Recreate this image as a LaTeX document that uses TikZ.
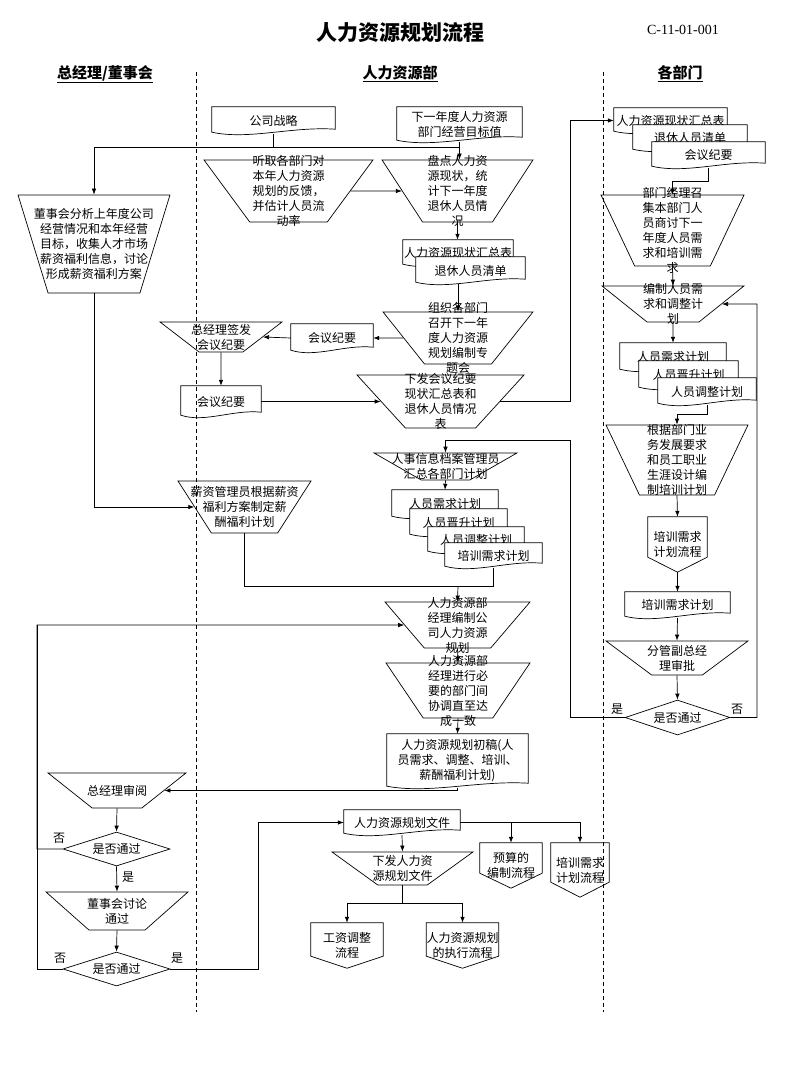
\documentclass[tikz,border=0pt]{standalone}
\usepackage{fontspec}
\setmainfont{Noto Sans CJK SC}
\newfontfamily\codefont{Liberation Serif}
\usetikzlibrary{arrows.meta}
\usetikzlibrary{calc}
\usetikzlibrary{shapes.geometric}

\tikzset{
  wire/.style={draw=black, line width=0.7pt},
  arr/.style={wire, -{Latex[length=6pt,width=4.5pt]}},
  txt/.style={align=center, inner sep=0pt, font=\fontsize{12}{15}\selectfont},
  manop/.style={trapezium, shape border rotate=180, trapezium stretches=true, wire, inner sep=0pt},
  doc/.style={txt, fill=white},
  offpg/.style={txt},
  chk/.style={diamond, wire, inner sep=0pt},
  lane/.style={line width=0.7pt, dash pattern=on 4pt off 3pt},
  head/.style={font=\fontsize{15}{15}\selectfont\bfseries},
  yn/.style={font=\fontsize{12}{12}\selectfont, inner sep=0pt}
}
% outline of a document box (wavy bottom)
\newcommand{\docedge}[1]{%
  \draw[wire] (#1.north west) -- ($(#1.south west)+(0,-2)$)
    .. controls ($(#1.south west)!0.3!(#1.south east)+(0,6)$) and ($(#1.south west)!0.65!(#1.south east)+(0,-8)$) .. ($(#1.south east)+(0,-5)$)
    -- (#1.north east) -- cycle;}
% outline of an off-page connector
\newcommand{\offedge}[2]{%
  \draw[wire] (#1.north west) -- (#1.north east) -- ($(#1.south east)+(0,-#2)$)
    -- (#1.south) -- ($(#1.south west)+(0,-#2)$) -- cycle;}
\newcommand{\blank}{\phantom{x}}

\begin{document}
\begin{tikzpicture}[x=1pt, y=-1pt]
  \useasboundingbox (0,0) rectangle (800,1066);

  % title and lane heads
  \node[font=\fontsize{21}{21}\selectfont\bfseries] (title) at (400,33) {人力资源规划流程};
  \node[font={\codefont\fontsize{14}{14}\selectfont}] (code) at (683,30) {C-11-01-001};
  \node[head] (hgm) at (105,74) {\underline{总经理/董事会}};
  \node[head] (hhr) at (400,74) {\underline{人力资源部}};
  \node[head] (hdp) at (680,74) {\underline{各部门}};

  % HR lane, top
  \node[doc, minimum width=123, minimum height=27] (gs) at (273.5,120.5) {公司战略};
  \docedge{gs}
  \node[doc, minimum width=125, minimum height=35] (target) at (459.5,124.5) {下一年度人力资源\\部门经营目标值};
  \docedge{target}
  \node[manop, minimum width=169, minimum height=62, trapezium angle=61.6,
    label={[txt]center:{听取各部门对\\本年人力资源\\规划的反馈，\\并估计人员流\\动率}}] (feedback) at (288.5,191) {\blank};
  \node[manop, minimum width=151, minimum height=62, trapezium angle=62,
    label={[txt]center:{盘点人力资\\源现状，统\\计下一年度\\退休人员情\\况}}] (count) at (457.5,191) {\blank};
  \node[doc, minimum width=110, minimum height=26] (hrsum) at (458,253) {人力资源现状汇总表};
  \docedge{hrsum}
  \node[doc, minimum width=109, minimum height=27] (retire) at (470.5,270.5) {退休人员清单};
  \docedge{retire}
  \node[manop, minimum width=150, minimum height=52, trapezium angle=60.4,
    label={[txt]center:{组织各部门\\召开下一年\\度人力资源\\规划编制专\\题会}}] (meeting) at (458,338) {\blank};
  \node[doc, minimum width=82, minimum height=28] (minutes1) at (332,338) {会议纪要};
  \docedge{minutes1}
  \node[manop, minimum width=167, minimum height=53, trapezium angle=57.7,
    label={[txt]center:{下发会议纪要\\现状汇总表和\\退休人员情况\\表}}] (issue) at (440.5,401.5) {\blank};

  % board lane, top
  \node[manop, minimum width=152, minimum height=98, trapezium angle=73.3,
    label={[txt]center:{董事会分析上年度公司\\经营情况和本年经营\\目标，收集人才市场\\薪资福利信息，讨论\\形成薪资福利方案}}] (board) at (94,244) {\blank};
  \node[manop, minimum width=122, minimum height=30, trapezium angle=50.8,
    label={[txt]center:{总经理签发\\会议纪要}}] (gmsign) at (221,337) {\blank};
  \node[doc, minimum width=80, minimum height=31] (minutes2) at (221,401.5) {会议纪要};
  \docedge{minutes2}

  % department lane
  \node[doc, minimum width=113, minimum height=25] (rhrsum) at (670.5,120.5) {人力资源现状汇总表};
  \docedge{rhrsum}
  \node[doc, minimum width=114, minimum height=26] (rretire) at (690,138) {退休人员清单};
  \docedge{rretire}
  \node[doc, minimum width=113, minimum height=26] (rminutes) at (708.5,155) {会议纪要};
  \docedge{rminutes}
  \node[manop, minimum width=143, minimum height=71, trapezium angle=67.8,
    label={[txt]center:{部门经理召\\集本部门人\\员商讨下一\\年度人员需\\求和培训需\\求}}] (dmeet) at (672.5,230.5) {\blank};
  \node[manop, minimum width=142, minimum height=36, trapezium angle=51.6,
    label={[txt]center:{编制人员需\\求和调整计\\划}}] (dplan) at (673,304) {\blank};
  \node[doc, minimum width=106, minimum height=28] (rdemand) at (673,357) {人员需求计划};
  \docedge{rdemand}
  \node[doc, minimum width=99, minimum height=28] (rpromo) at (688.5,375) {人员晋升计划};
  \docedge{rpromo}
  \node[doc, minimum width=98, minimum height=27] (radjust) at (707,391.5) {人员调整计划};
  \docedge{radjust}
  \node[manop, minimum width=142, minimum height=70, trapezium angle=67.8,
    label={[txt]center:{根据部门业\\务发展要求\\和员工职业\\生涯设计编\\制培训计划}}] (dtrain) at (677,460) {\blank};
  \node[offpg, minimum width=59, minimum height=55] (rtrainflow) at (677.5,544.5) {培训需求\\计划流程};
  \offedge{rtrainflow}{15}
  \node[doc, minimum width=105, minimum height=26] (rtrain) at (677.5,605) {培训需求计划};
  \docedge{rtrain}
  \node[manop, minimum width=142, minimum height=34, trapezium angle=50.5,
    label={[txt]center:{分管副总经\\理审批}}] (vpapp) at (677,658) {\blank};
  \node[chk, minimum width=105, minimum height=35,
    label={[txt]center:是否通过}] (dchk) at (677.5,717.5) {\blank};

  % HR lane, middle
  \node[manop, minimum width=143, minimum height=27, trapezium angle=48.4,
    label={[txt]center:{人事信息档案管理员\\汇总各部门计划}}] (collect) at (445.5,466.5) {\blank};
  \node[doc, minimum width=106, minimum height=28] (mdemand) at (445,504) {人员需求计划};
  \docedge{mdemand}
  \node[doc, minimum width=97, minimum height=27] (mpromo) at (458.5,522.5) {人员晋升计划};
  \docedge{mpromo}
  \node[doc, minimum width=96, minimum height=26] (madjust) at (476,540) {人员调整计划};
  \docedge{madjust}
  \node[doc, minimum width=97, minimum height=25] (mtrain) at (493.5,555.5) {培训需求计划};
  \docedge{mtrain}
  \node[manop, minimum width=133, minimum height=52, trapezium angle=65.2,
    label={[txt]center:{薪资管理员根据薪资\\福利方案制定薪\\酬福利计划}}] (salary) at (244.5,507) {\blank};
  \node[manop, minimum width=145, minimum height=46, trapezium angle=61.5,
    label={[txt]center:{人力资源部\\经理编制公\\司人力资源\\规划}}] (compile) at (457.5,625) {\blank};
  \node[manop, minimum width=144, minimum height=55, trapezium angle=63.9,
    label={[txt]center:{人力资源部\\经理进行必\\要的部门间\\协调直至达\\成一致}}] (coord) at (458,690.5) {\blank};
  \node[doc, minimum width=141, minimum height=54] (draft) at (457.5,761) {人力资源规划初稿(人\\员需求、调整、培训、\\薪酬福利计划)};
  \docedge{draft}

  % board lane, bottom
  \node[manop, minimum width=138, minimum height=35, trapezium angle=50.8,
    label={[txt]center:总经理审阅}] (gmreview) at (117,790.5) {\blank};
  \node[chk, minimum width=107, minimum height=34,
    label={[txt]center:是否通过}] (chk1) at (116.5,849) {\blank};
  \node[manop, minimum width=142, minimum height=38, trapezium angle=55,
    label={[txt]center:{董事会讨论\\通过}}] (bdiscuss) at (117,911) {\blank};
  \node[chk, minimum width=107, minimum height=34,
    label={[txt]center:是否通过}] (chk2) at (116.5,969) {\blank};

  % HR lane, bottom
  \node[doc, minimum width=116, minimum height=25] (planfile) at (402,822.5) {人力资源规划文件};
  \docedge{planfile}
  \node[manop, minimum width=141, minimum height=33, trapezium angle=49.7,
    label={[txt]center:{下发人力资\\源规划文件}}] (release) at (402.5,868.5) {\blank};
  \node[offpg, minimum width=62, minimum height=45] (budget) at (511,865.5) {预算的\\编制流程};
  \offedge{budget}{15}
  \node[offpg, minimum width=58, minimum height=54] (trainflow) at (580,870) {培训需求\\计划流程};
  \offedge{trainflow}{15}
  \node[offpg, minimum width=72, minimum height=45] (wageflow) at (347,945.5) {工资调整\\流程};
  \offedge{wageflow}{12}
  \node[offpg, minimum width=71, minimum height=45] (execflow) at (462.5,945.5) {人力资源规划\\的执行流程};
  \offedge{execflow}{12}

  % turning points
  \coordinate (j1) at (459.5,147);
  \coordinate (upR) at (570,120.5);
  \coordinate (yesR) at (570,440);
  \coordinate (noR) at (757,304);
  \coordinate (j2) at (458,586);
  \coordinate (noL) at (37,625);
  \coordinate (yesL) at (258,822.5);

  % connectors
  \draw[wire] (gs.south) -- (gs.south |- j1);
  \draw[arr] (j1) -| (board.north);
  \draw[arr] (target.south) -- (target.south |- count.north);
  \draw[arr] (feedback.east) -- (count.west);
  \draw[arr] (count.south) -- (count.south |- hrsum.north);
  \draw[arr] (meeting.north |- retire.south) -- (meeting.north);
  \draw[arr] (meeting.west) -- (minutes1.east);
  \draw[arr] (minutes1.west) -- (gmsign.east);
  \draw[arr] (gmsign.south) -- (minutes2.north);
  \draw[arr] (minutes2.east) -- (issue.west);
  \draw[arr] (issue.east) -| (upR) -- (rhrsum.west);
  \draw[arr] (rminutes.south) -- ++(0,13) -| (dmeet.north);
  \draw[arr] (dmeet.south) -- (dplan.north);
  \draw[arr] (dplan.south) -- (rdemand.north);
  \draw[arr] (radjust.south) -- ++(0,9) -| (dtrain.north);
  \draw[arr] (dtrain.south) -- (rtrainflow.north);
  \draw[arr] (rtrainflow.south) -- (rtrain.north);
  \draw[arr] (rtrain.south) -- (vpapp.north);
  \draw[arr] (vpapp.south) -- (dchk.north);
  \draw[arr] (dchk.west) -| (yesR) -| (collect.north);
  \draw[arr] (dchk.east) -| (noR) -- (dplan.east);
  \draw[arr] (board.south) |- (salary.west);
  \draw[arr] (collect.south) -- (mdemand.north);
  \draw[wire] (salary.south) |- (j2);
  \draw[wire] (mtrain.south) |- (j2);
  \draw[arr] (j2) -- (compile.north);
  \draw[arr] (compile.south) -- (coord.north);
  \draw[arr] (coord.south) -- (draft.north);
  \draw[arr] (draft.south) |- (gmreview.east);
  \draw[arr] (gmreview.south) -- (chk1.north);
  \draw[arr] (chk1.south) -- (bdiscuss.north);
  \draw[arr] (bdiscuss.south) -- (chk2.north);
  \draw[arr] (chk1.west) -| (noL) -- (compile.west);
  \draw[wire] (chk2.west) -| (noL);
  \draw[arr] (chk2.east) -| (yesL) -- (planfile.west);
  \draw[arr] (planfile.south) -- (release.north);
  \draw[arr] (planfile.east) -| (budget.north);
  \draw[arr] (planfile.east) -| (trainflow.north);
  \draw[arr] (release.south) -- ++(0,18) -| (wageflow.north);
  \draw[arr] (release.south) -- ++(0,18) -| (execflow.north);

  % yes / no marks
  \node[yn] (y1) at (617,709) {是};
  \node[yn] (n1) at (737,709) {否};
  \node[yn] (n2) at (59,838) {否};
  \node[yn] (y2) at (128,877) {是};
  \node[yn] (n3) at (60,958) {否};
  \node[yn] (y3) at (177,958) {是};

  % swim lanes
  \draw[lane] (196,72) -- (196,1012);
  \draw[lane] (603,72) -- (603,1012);
\end{tikzpicture}
\end{document}
